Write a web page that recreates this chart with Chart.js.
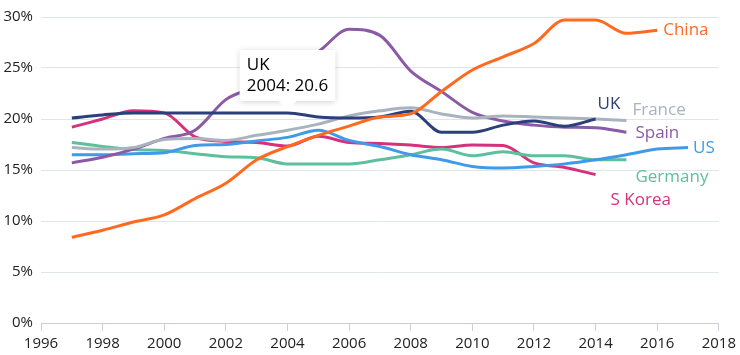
<!DOCTYPE html>
<html>
<head>
<meta charset="utf-8">
<script src="https://cdn.jsdelivr.net/npm/chart.js@4/dist/chart.umd.min.js"></script>
<style>
  html, body { margin: 0; padding: 0; background: #fff; }
  #wrap { width: 740px; height: 355px; position: relative; }
</style>
</head>
<body>
<div id="wrap"><canvas id="c" width="740" height="355"></canvas></div>
<script>
const years = [1997,1998,1999,2000,2001,2002,2003,2004,2005,2006,2007,2008,2009,2010,2011,2012,2013,2014,2015,2016,2017];
const seriesNames = ['China','UK','France','Spain','US','Germany','S Korea'];
const china   = [8.4,9.1,9.9,10.6,12.2,13.7,16.0,17.3,18.4,19.3,20.2,20.5,22.7,24.8,26.1,27.4,29.7,29.7,28.4,28.7,null];
const uk      = [20.1,20.4,20.6,20.6,20.6,20.6,20.6,20.6,20.2,20.1,20.2,20.75,18.7,18.7,19.4,19.8,19.3,20.0,null,null,null];
const france  = [17.2,17.05,17.2,18.0,18.1,17.9,18.4,18.9,19.5,20.3,20.8,21.1,20.5,20.1,20.3,20.2,20.1,20.0,19.85,null,null];
const spain   = [15.7,16.25,17.05,18.1,18.9,21.9,23.2,25.0,26.6,28.8,28.2,24.7,22.7,20.65,19.8,19.4,19.2,19.15,18.7,null,null];
const us      = [16.5,16.5,16.6,16.7,17.4,17.5,17.85,18.2,18.9,17.9,17.3,16.5,16.0,15.35,15.2,15.35,15.6,16.0,16.5,17.05,17.2];
const germany = [17.7,17.3,17.0,16.9,16.6,16.3,16.2,15.6,15.6,15.6,16.0,16.5,17.05,16.4,16.8,16.4,16.4,16.0,16.0,null,null];
const skorea  = [19.2,20.0,20.8,20.6,18.25,17.8,17.7,17.35,18.3,17.7,17.6,17.45,17.2,17.45,17.4,15.7,15.25,14.55,null,null,null];
const yTicks = [0,5,10,15,20,25,30];
const xTicks = [1996,1998,2000,2002,2004,2006,2008,2010,2012,2014,2016,2018];

const colors = ['#ff6a1f','#2b3f7c','#a8b3bd','#8b5aa6','#3f9ae9','#5ebf9d','#d5327c'];
const labelOffsets = [[6,0],[2,-15],[6,-10],[9,1],[5,1],[9,17],[15,26]];
const values = [china, uk, france, spain, us, germany, skorea];

const datasets = seriesNames.map((name, i) => ({
  label: name,
  data: years.map((y, j) => ({x: y, y: values[i][j]})).filter(p => p.y !== null),
  borderColor: colors[i],
  backgroundColor: colors[i],
  borderWidth: 3,
  pointRadius: 0,
  pointHoverRadius: 0,
  cubicInterpolationMode: 'monotone',
  fill: false
}));

const endLabels = {
  id: 'endLabels',
  afterDatasetsDraw(chart) {
    const ctx = chart.ctx;
    ctx.save();
    ctx.font = '17px "Open Sans"';
    ctx.textBaseline = 'middle';
    ctx.textAlign = 'left';
    chart.data.datasets.forEach((ds, i) => {
      const meta = chart.getDatasetMeta(i);
      const last = meta.data[meta.data.length - 1];
      ctx.fillStyle = colors[i];
      ctx.fillText(ds.label, last.x + labelOffsets[i][0], last.y + labelOffsets[i][1]);
    });
    ctx.restore();
  },
  beforeTooltipDraw(chart, args) {
    const t = args.tooltip;
    if (!t || !t.opacity) return;
    const ctx = chart.ctx;
    ctx.save();
    ctx.shadowColor = 'rgba(0,0,0,0.18)';
    ctx.shadowBlur = 6;
    ctx.shadowOffsetX = 0;
    ctx.shadowOffsetY = 1;
    ctx.fillStyle = '#fff';
    ctx.fillRect(t.x, t.y, t.width, t.height);
    ctx.restore();
  }
};

const chart = new Chart(document.getElementById('c'), {
  type: 'line',
  data: { datasets },
  plugins: [endLabels],
  options: {
    responsive: false,
    animation: false,
    events: [],
    layout: { padding: { top: 11, right: 21, left: 0, bottom: 0 } },
    scales: {
      x: {
        type: 'linear',
        min: 1996, max: 2018,
        afterBuildTicks: s => { s.ticks = xTicks.map(v => ({value: v})); },
        afterFit: s => { s.height = 32; },
        grid: { drawOnChartArea: false, drawTicks: true, tickLength: 8, color: '#c8d0da', lineWidth: 1 },
        border: { display: true, color: '#c8d0da', width: 1 },
        ticks: { color: '#222', font: { family: 'Open Sans', size: 15 }, padding: 4, maxRotation: 0, autoSkip: false, callback: v => String(v) }
      },
      y: {
        type: 'linear',
        min: 0, max: 30,
        afterBuildTicks: s => { s.ticks = yTicks.map(v => ({value: v})); },
        afterFit: s => { s.width = 41; },
        grid: { drawTicks: false, color: '#dfe5ec', lineWidth: 1 },
        border: { display: false },
        ticks: { color: '#222', font: { family: 'Open Sans', size: 15 }, padding: 8, callback: v => v + '%' }
      }
    },
    plugins: {
      legend: { display: false },
      tooltip: {
        enabled: true,
        backgroundColor: '#ffffff',
        titleColor: '#000',
        bodyColor: '#000',
        titleFont: { family: 'Open Sans', size: 17, weight: 'normal' },
        bodyFont: { family: 'Open Sans', size: 17 },
        titleMarginBottom: 0,
        bodySpacing: 0,
        displayColors: false,
        caretSize: 9,
        caretPadding: 3,
        cornerRadius: 0,
        padding: { x: 7, y: 5 },
        yAlign: 'bottom',
        xAlign: 'center',
        callbacks: {
          title: items => items[0].dataset.label,
          label: item => item.raw.x + ': ' + item.raw.y
        }
      }
    }
  }
});

const ukIdx = seriesNames.indexOf('UK');
const ptIdx = years.indexOf(2004);
const el = chart.getDatasetMeta(ukIdx).data[ptIdx];
chart.tooltip.setActiveElements([{datasetIndex: ukIdx, index: ptIdx}], {x: el.x, y: el.y});
chart.update();
</script>
</body>
</html>
